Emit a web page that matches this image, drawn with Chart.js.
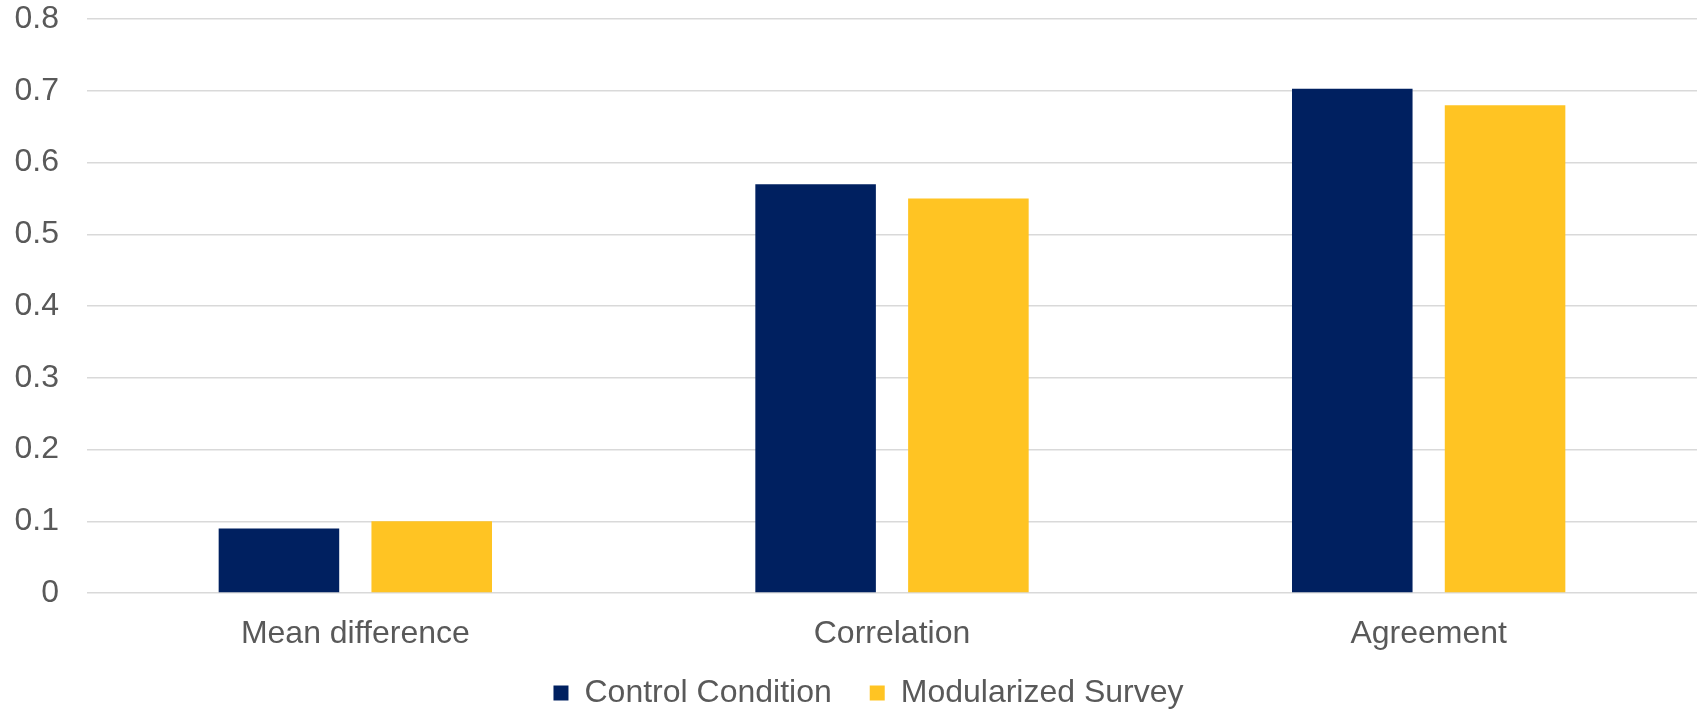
<!DOCTYPE html>
<html>
<head>
<meta charset="utf-8">
<script src="https://cdn.jsdelivr.net/npm/chart.js@4.4.1/dist/chart.umd.min.js"></script>
<style>
  html, body { margin: 0; padding: 0; background: #ffffff; }
  #wrap { position: relative; width: 1700px; height: 710px; }
</style>
</head>
<body>
<div id="wrap"><canvas id="c" width="1700" height="710"></canvas></div>
<script>
const categories = ["Mean difference", "Correlation", "Agreement"];
const seriesNames = ["Control Condition", "Modularized Survey"];
const controlValues = [0.09, 0.57, 0.703];
const modularValues = [0.10, 0.55, 0.68];
const yTicks = [0, 0.1, 0.2, 0.3, 0.4, 0.5, 0.6, 0.7, 0.8];

const FONT = "'Liberation Sans', Arial, sans-serif";
const TEXT = "#595959";

const legendTune = {
  id: "legendTune",
  beforeLayout(chart) {
    const lg = chart.legend;
    if (lg && !lg._tuned) {
      const orig = lg.fit.bind(lg);
      lg.fit = function () { orig(); this.height = 57; };
      lg._tuned = true;
    }
  },
  afterLayout(chart) {
    const lg = chart.legend;
    if (lg) { lg.left += 13; lg.right += 13; lg.top -= 14; lg.bottom = chart.height; }
  }
};

new Chart(document.getElementById("c"), {
  type: "bar",
  data: {
    labels: categories,
    datasets: [
      { label: seriesNames[0], data: controlValues, backgroundColor: "#002060", borderWidth: 0 },
      { label: seriesNames[1], data: modularValues, backgroundColor: "#FFC423", borderWidth: 0 }
    ]
  },
  plugins: [legendTune],
  options: {
    responsive: false,
    animation: false,
    devicePixelRatio: 1,
    categoryPercentage: 0.5694,
    barPercentage: 0.789,
    layout: { padding: { left: 14, right: 3, top: 0, bottom: 0 } },
    plugins: {
      tooltip: { enabled: false },
      legend: {
        position: "bottom",
        labels: {
          boxWidth: 15,
          boxHeight: 15,
          padding: 38,
          color: TEXT,
          font: { family: FONT, size: 32 }
        }
      }
    },
    scales: {
      x: {
        grid: { display: false },
        border: { display: false },
        afterFit: (axis) => { axis.height = 60; },
        ticks: { color: TEXT, font: { family: FONT, size: 32 }, padding: 14, maxRotation: 0 }
      },
      y: {
        min: 0,
        max: 0.8,
        afterBuildTicks: (axis) => { axis.ticks = yTicks.map(v => ({ value: v })); },
        afterFit: (axis) => { axis.width = 73; },
        grid: { color: "#D9D9D9", lineWidth: 1.5, drawTicks: true, tickLength: 28, tickColor: "rgba(0,0,0,0)" },
        border: { display: false },
        ticks: { color: TEXT, font: { family: FONT, size: 32 }, padding: 0,
                 callback: (v) => String(Math.round(v * 10) / 10) }
      }
    }
  }
});
</script>
</body>
</html>
